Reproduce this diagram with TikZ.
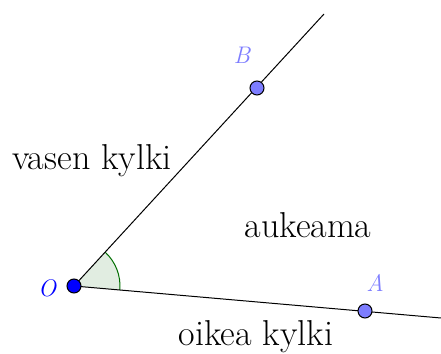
\documentclass[tikz,border=0pt]{standalone}
\usepackage{tikz}
\usetikzlibrary{positioning}
\definecolor{ptblue}{RGB}{125,125,255}
\definecolor{anglefill}{RGB}{225,237,225}
\definecolor{anglegreen}{RGB}{0,110,0}

\begin{document}
\begin{tikzpicture}[x=1pt, y=1pt, line width=1pt,
  point/.style={circle, draw, fill=ptblue, minimum size=14pt, inner sep=0pt},
  ptlabel/.style={text=ptblue, font=\fontsize{24}{28}\selectfont\itshape},
  kylki/.style={font=\fontsize{36}{42}\selectfont}]
  \useasboundingbox (0,0) rectangle (441,353);
  \coordinate (O) at (74,67);
  \coordinate (Bend) at (324,339);
  \coordinate (Aend) at (441,35);
  % kulma
  \fill[anglefill] (O) -- ++(-5:46) arc (-5:47.4:46) -- cycle;
  \draw[anglegreen] (O) ++(-5:46) arc (-5:47.4:46);
  % kyljet
  \draw (O) -- (Bend);
  \draw (O) -- (Aend);
  \node[point] (A) at (365,42) {};
  \node[point] (B) at (257,265) {};
  \node[point, fill=blue] (Opt) at (O) {};
  \node[ptlabel] (Alab) at (375,70) {A};
  \node[ptlabel] (Blab) at (242,298) {B};
  \node[text=blue, font=\fontsize{24}{28}\selectfont\itshape] (Olab) at (47,65) {O};
  \node[kylki] (vasen) at (92,192) {vasen kylki};
  \node[kylki] (aukeama) at (308,128) {aukeama};
  \node[kylki] (oikea) at (256,16) {oikea kylki};
\end{tikzpicture}
\end{document}
